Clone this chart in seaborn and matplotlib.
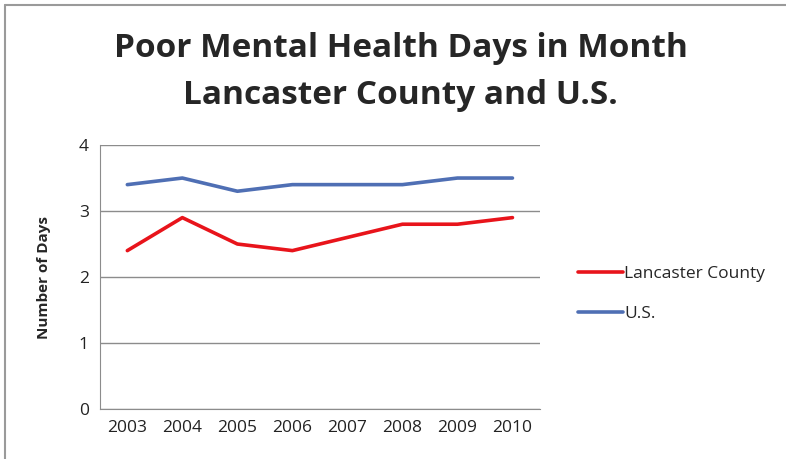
import matplotlib.pyplot as plt
import matplotlib.lines as mlines
import pandas as pd
import seaborn as sns

years = ["2003", "2004", "2005", "2006", "2007", "2008", "2009", "2010"]
lancaster = [2.4, 2.9, 2.5, 2.4, 2.6, 2.8, 2.8, 2.9]
us = [3.4, 3.5, 3.3, 3.4, 3.4, 3.4, 3.5, 3.5]

df = pd.DataFrame({
    "year": years * 2,
    "days": lancaster + us,
    "series": ["Lancaster County"] * len(years) + ["U.S."] * len(years),
})

sns.set_style("white")
plt.rcParams["font.family"] = ["Open Sans", "DejaVu Sans"]

fig = plt.figure(figsize=(7.86, 4.59), dpi=100)
ax = fig.add_axes([0.127, 0.109, 0.56, 0.575])

sns.lineplot(data=df, x="year", y="days", hue="series",
             palette={"Lancaster County": "#e8141b", "U.S.": "#4f6fb4"},
             linewidth=2.6, ax=ax, legend=False)

ax.set_xlim(-0.5, 7.5)
ax.set_ylim(0, 4)
ax.set_yticks([0, 1, 2, 3, 4])
ax.yaxis.grid(True, color="#8c8c8c", linewidth=1)
ax.set_axisbelow(True)
for s in ["top", "right"]:
    ax.spines[s].set_visible(False)
for s in ["left", "bottom"]:
    ax.spines[s].set_color("#8c8c8c")
ax.tick_params(axis="both", labelsize=12.5, length=0, pad=8, colors="#222222")
ax.set_xlabel("")
ax.set_ylabel("Number of Days", fontsize=11, fontweight="bold", labelpad=20)

fig.text(0.51, 0.843, "Poor Mental Health Days in Month\nLancaster County and U.S.",
         ha="center", va="center", fontsize=24, fontweight="bold",
         linespacing=1.55)

handles = [mlines.Line2D([], [], color="#e8141b", linewidth=2.6),
           mlines.Line2D([], [], color="#4f6fb4", linewidth=2.6)]
fig.legend(handles, ["Lancaster County", "U.S."], loc="center left",
           bbox_to_anchor=(0.715, 0.36), frameon=False, fontsize=12.5,
           handlelength=2.6, handletextpad=0.1, labelspacing=1.35)

# chart border
fig.add_artist(mlines.Line2D([0.006, 1], [0.989, 0.989], color="#9a9a9a", linewidth=1.5))
fig.add_artist(mlines.Line2D([0.006, 0.006], [0, 0.989], color="#9a9a9a", linewidth=1.5))

fig.savefig("out.png", dpi=100)
